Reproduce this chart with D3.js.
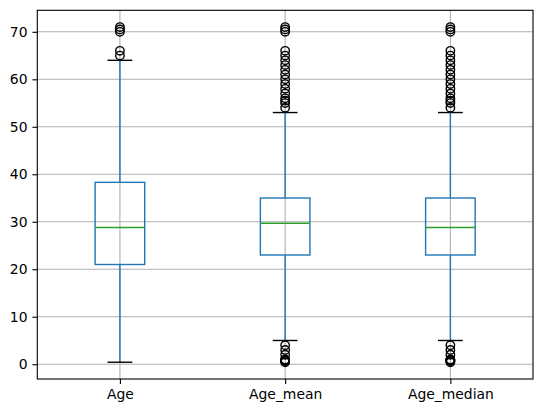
<!DOCTYPE html>
<html>
<head>
<meta charset="utf-8">
<script src="https://cdn.jsdelivr.net/npm/d3@7"></script>
<style>
  body { margin: 0; background: #fff; }
  text { font-family: "DejaVu Sans", sans-serif; font-size: 13.9px; fill: #000; }
</style>
</head>
<body>
<div id="container"></div>
<script>
var categories = ["Age", "Age_mean", "Age_median"];

// box stats: [lowWhisker, q1, median, q3, highWhisker]
var stats = [
    [0.42, 21, 28.8, 38.3, 64],
    [5, 23, 29.7, 35, 53],
    [5, 23, 28.8, 35, 53]
];

var fliers = [
    [65, 66, 70, 70.5, 71],
    [0.42, 0.67, 0.75, 0.83, 0.92, 1, 2, 3, 4, 54, 55, 55.5, 56, 57, 58, 59, 60, 61, 62, 63, 64, 65, 66, 70, 70.5, 71],
    [0.42, 0.67, 0.75, 0.83, 0.92, 1, 2, 3, 4, 54, 55, 55.5, 56, 57, 58, 59, 60, 61, 62, 63, 64, 65, 66, 70, 70.5, 71]
];

var yTicks = [0, 10, 20, 30, 40, 50, 60, 70];

var width = 543,
    height = 413,
    margin = {left: 37.3, right: 10, top: 10.3, bottom: 34}

var x = d3.scaleLinear()
    .domain([0.5, 3.5])
    .range([margin.left, width - margin.right]);

var y = d3.scaleLinear()
    .domain([-3.11, 74.53])
    .range([height - margin.bottom, margin.top]);

var svg = d3.select("div#container").append("svg")
    .attr("width", width)
    .attr("height", height);

var boxW = x(1.3) - x(1);
var capW = boxW / 2;

// grid
svg.append("g")
    .selectAll("line")
    .data(yTicks)
    .enter().append("line")
    .attr("x1", x.range()[0]).attr("x2", x.range()[1])
    .attr("y1", function (d) { return y(d); })
    .attr("y2", function (d) { return y(d); })
    .attr("stroke", "#b0b0b0").attr("stroke-width", 1.1);

svg.append("g")
    .selectAll("line")
    .data(categories)
    .enter().append("line")
    .attr("x1", function (d, i) { return x(i + 1); })
    .attr("x2", function (d, i) { return x(i + 1); })
    .attr("y1", y.range()[0]).attr("y2", y.range()[1])
    .attr("stroke", "#b0b0b0").attr("stroke-width", 1.1);

var box = svg.selectAll(".box")
    .data(stats)
    .enter().append("g")
    .attr("class", "box");

// whiskers
box.append("line")
    .attr("x1", function (d, i) { return x(i + 1); })
    .attr("x2", function (d, i) { return x(i + 1); })
    .attr("y1", function (d) { return y(d[0]); })
    .attr("y2", function (d) { return y(d[1]); })
    .attr("stroke", "#1f77b4").attr("stroke-width", 1.4);

box.append("line")
    .attr("x1", function (d, i) { return x(i + 1); })
    .attr("x2", function (d, i) { return x(i + 1); })
    .attr("y1", function (d) { return y(d[3]); })
    .attr("y2", function (d) { return y(d[4]); })
    .attr("stroke", "#1f77b4").attr("stroke-width", 1.4);

// caps
[0, 4].forEach(function (k) {
    box.append("line")
        .attr("x1", function (d, i) { return x(i + 1) - capW / 2; })
        .attr("x2", function (d, i) { return x(i + 1) + capW / 2; })
        .attr("y1", function (d) { return y(d[k]); })
        .attr("y2", function (d) { return y(d[k]); })
        .attr("stroke", "#000").attr("stroke-width", 1.4);
});

// boxes
box.append("rect")
    .attr("x", function (d, i) { return x(i + 1) - boxW / 2; })
    .attr("width", boxW)
    .attr("y", function (d) { return y(d[3]); })
    .attr("height", function (d) { return y(d[1]) - y(d[3]); })
    .attr("fill", "none")
    .attr("stroke", "#1f77b4").attr("stroke-width", 1.4);

// medians
box.append("line")
    .attr("x1", function (d, i) { return x(i + 1) - boxW / 2; })
    .attr("x2", function (d, i) { return x(i + 1) + boxW / 2; })
    .attr("y1", function (d) { return y(d[2]); })
    .attr("y2", function (d) { return y(d[2]); })
    .attr("stroke", "#2ca02c").attr("stroke-width", 1.4);

// fliers
fliers.forEach(function (list, i) {
    svg.append("g")
        .selectAll("circle")
        .data(list)
        .enter().append("circle")
        .attr("cx", x(i + 1))
        .attr("cy", function (d) { return y(d); })
        .attr("r", 4.2)
        .attr("fill", "none")
        .attr("stroke", "#000")
        .attr("stroke-width", 1.4);
});

// axes frame
svg.append("rect")
    .attr("x", x.range()[0]).attr("y", y.range()[1])
    .attr("width", x.range()[1] - x.range()[0])
    .attr("height", y.range()[0] - y.range()[1])
    .attr("fill", "none").attr("stroke", "#000").attr("stroke-width", 1.1);

var yAxis = svg.append("g")
    .attr("transform", "translate(" + x.range()[0] + ",0)")
    .call(d3.axisLeft(y).tickValues(yTicks).tickSize(4.9).tickPadding(4.9));

var xAxis = svg.append("g")
    .attr("transform", "translate(0," + y.range()[0] + ")")
    .call(d3.axisBottom(x).tickValues([1, 2, 3])
        .tickFormat(function (d) { return categories[d - 1]; })
        .tickSize(4.9).tickPadding(4.9));

svg.selectAll(".domain").remove();
svg.selectAll(".tick line").attr("stroke", "#000").attr("stroke-width", 1.1);
svg.selectAll(".tick text").style("font-family", "DejaVu Sans").style("font-size", "13.9px").attr("fill", "#000");
</script>
</body>
</html>
